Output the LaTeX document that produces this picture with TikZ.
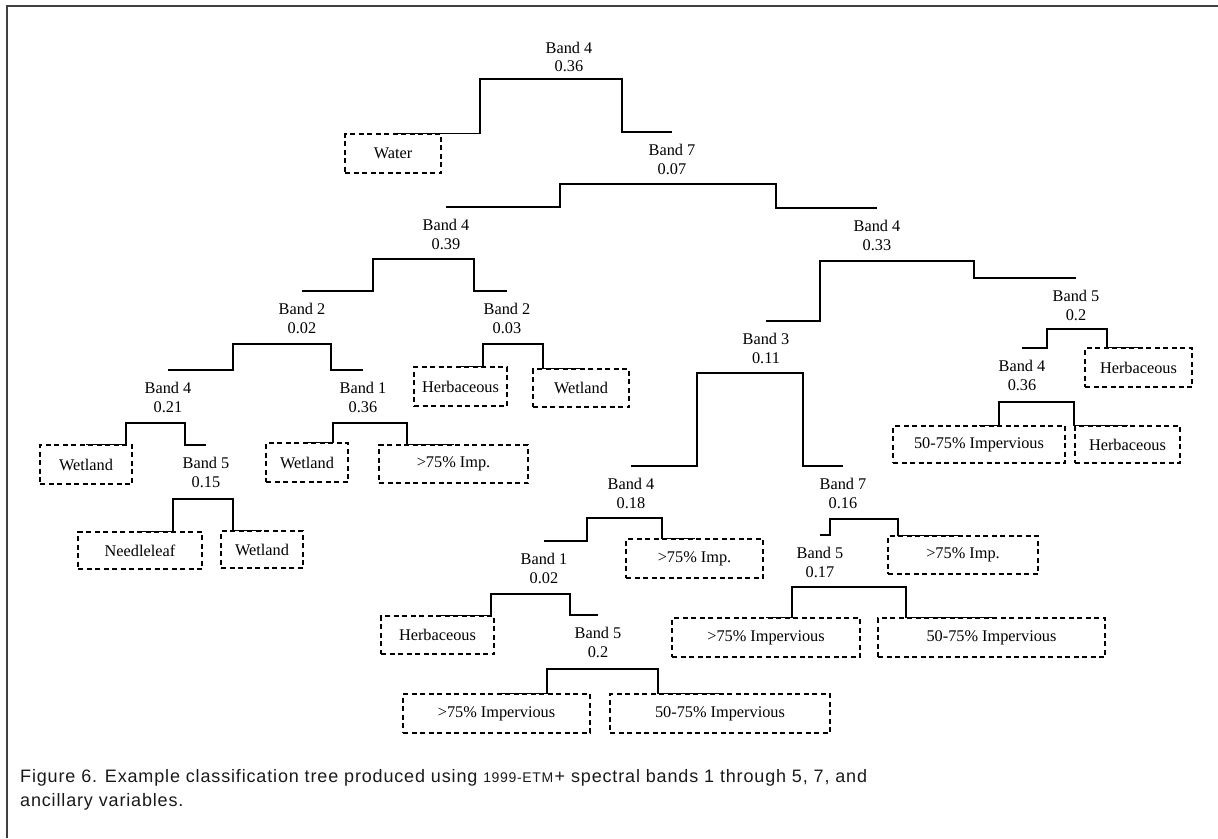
\documentclass[tikz,border=0pt]{standalone}
\usepackage{fontspec}
\setmainfont{Liberation Serif}
\newfontfamily\capfont[LetterSpace=4.7]{Liberation Sans}
\begin{document}
\begin{tikzpicture}[x=1pt,y=-1pt,
  lbl/.style={font=\fontsize{16.3}{18.5}\selectfont, align=center, anchor=north, inner xsep=0pt, inner ysep=12pt},
  leaf/.style={draw, dash pattern=on 5pt off 3.5pt, line width=1.1pt, font=\fontsize{16.3}{18.5}\selectfont, inner sep=0pt},
  br/.style={line width=1.4pt},
  frame/.style={line width=2pt, draw=black!75},
  capt/.style={font=\capfont\fontsize{18}{24}\selectfont, align=left, inner sep=0pt, text=black!90}]
\useasboundingbox (0,0) rectangle (1218,838);
\draw[frame] (7,838) -- (7,6) -- (1218,6);

% split labels
\node[lbl] (s1) at (569,29.5) {Band 4\\0.36};
\node[lbl] (s2) at (672,132) {Band 7\\0.07};
\node[lbl] (s3) at (446,207) {Band 4\\0.39};
\node[lbl] (s4) at (877,208) {Band 4\\0.33};
\node[lbl] (s5) at (302,291) {Band 2\\0.02};
\node[lbl] (s6) at (507,291) {Band 2\\0.03};
\node[lbl] (s7) at (168,370) {Band 4\\0.21};
\node[lbl] (s8) at (363,370) {Band 1\\0.36};
\node[lbl] (s9) at (206,445) {Band 5\\0.15};
\node[lbl] (s10) at (766,321) {Band 3\\0.11};
\node[lbl] (s11) at (1076,278) {Band 5\\0.2};
\node[lbl] (s12) at (1022,348) {Band 4\\0.36};
\node[lbl] (s13) at (631,466) {Band 4\\0.18};
\node[lbl] (s14) at (843,466) {Band 7\\0.16};
\node[lbl] (s15) at (544,541) {Band 1\\0.02};
\node[lbl] (s16) at (598,615) {Band 5\\0.2};
\node[lbl] (s17) at (820,535) {Band 5\\0.17};

% leaves
\node[leaf, minimum width=96pt, minimum height=39pt] (water) at (393,153.5) {Water};
\node[leaf, minimum width=92pt, minimum height=39pt] (wetA) at (86,464.5) {Wetland};
\node[leaf, minimum width=124pt, minimum height=37pt] (needle) at (140,550.5) {Needleleaf};
\node[leaf, minimum width=82pt, minimum height=37pt] (wetB) at (262,549.5) {Wetland};
\node[leaf, minimum width=82pt, minimum height=39pt] (wetC) at (307,462.5) {Wetland};
\node[leaf, minimum width=149pt, minimum height=38pt] (impA) at (453.5,464) {>75\% Imp.};
\node[leaf, minimum width=93pt, minimum height=39pt] (herbA) at (460.5,386.5) {Herbaceous};
\node[leaf, minimum width=96pt, minimum height=38pt] (wetD) at (581,388) {Wetland};
\node[leaf, minimum width=107pt, minimum height=39pt] (herbB) at (1138.5,367.5) {Herbaceous};
\node[leaf, minimum width=172pt, minimum height=37pt] (pctA) at (979,444.5) {50-75\% Impervious};
\node[leaf, minimum width=105pt, minimum height=37pt] (herbC) at (1127.5,444.5) {Herbaceous};
\node[leaf, minimum width=137pt, minimum height=39pt] (impB) at (694.5,558.5) {>75\% Imp.};
\node[leaf, minimum width=113pt, minimum height=38pt] (herbD) at (437.5,635) {Herbaceous};
\node[leaf, minimum width=187pt, minimum height=39pt] (impC) at (496.5,713.5) {>75\% Impervious};
\node[leaf, minimum width=220pt, minimum height=39pt] (pctB) at (720,713.5) {50-75\% Impervious};
\node[leaf, minimum width=150pt, minimum height=38pt] (impE) at (963,555) {>75\% Imp.};
\node[leaf, minimum width=188pt, minimum height=39pt] (impD) at (766,637.5) {>75\% Impervious};
\node[leaf, minimum width=227pt, minimum height=39pt] (pctC) at (991.5,637.5) {50-75\% Impervious};

% brackets
\draw[br] (water.north) -| (480,79) -- (622,79) |- (s2.north);
\draw[br] (s3.north) -| (560,184) -- (776,184) |- (s4.north);
\draw[br] (s5.north) -| (373,259) -- (474,259) |- (s6.north);
\draw[br] (s10.north) -| (820,261) -- (974,261) |- (s11.north);
\draw[br] (s7.north) -| (233,344) -- (331,344) |- (s8.north);
\draw[br] (herbA.north) -| (483,344) -- (543,344) |- (wetD.north);
\draw[br] (wetA.north) -| (126,423) -- (185,423) |- (s9.north);
\draw[br] (wetC.north) -| (333,423) -- (407,423) |- (impA.north);
\draw[br] (needle.north) -| (173,499) -- (233,499) |- (wetB.north);
\draw[br] (s13.north) -| (697,373) -- (803,373) |- (s14.north);
\draw[br] (s12.north) -| (1047,329) -- (1107,329) |- (herbB.north);
\draw[br] (pctA.north) -| (999,402) -- (1074,402) |- (herbC.north);
\draw[br] (s15.north) -| (587,518) -- (662,518) |- (impB.north);
\draw[br] (s17.north) -| (830,519) -- (898,519) |- (impE.north);
\draw[br] (herbD.north) -| (491,594) -- (570,594) |- (s16.north);
\draw[br] (impC.north) -| (547,669) -- (658,669) |- (pctB.north);
\draw[br] (impD.north) -| (792,587) -- (906,587) |- (pctC.north);

% caption
\node[capt, anchor=base west] (cap) at (20,806) {Figure 6. Example classification tree produced using {\fontsize{14}{24}\selectfont 1999-ETM}\kern1.5pt+ spectral bands 1 through 5, 7, and\\ancillary variables.};
\end{tikzpicture}
\end{document}
